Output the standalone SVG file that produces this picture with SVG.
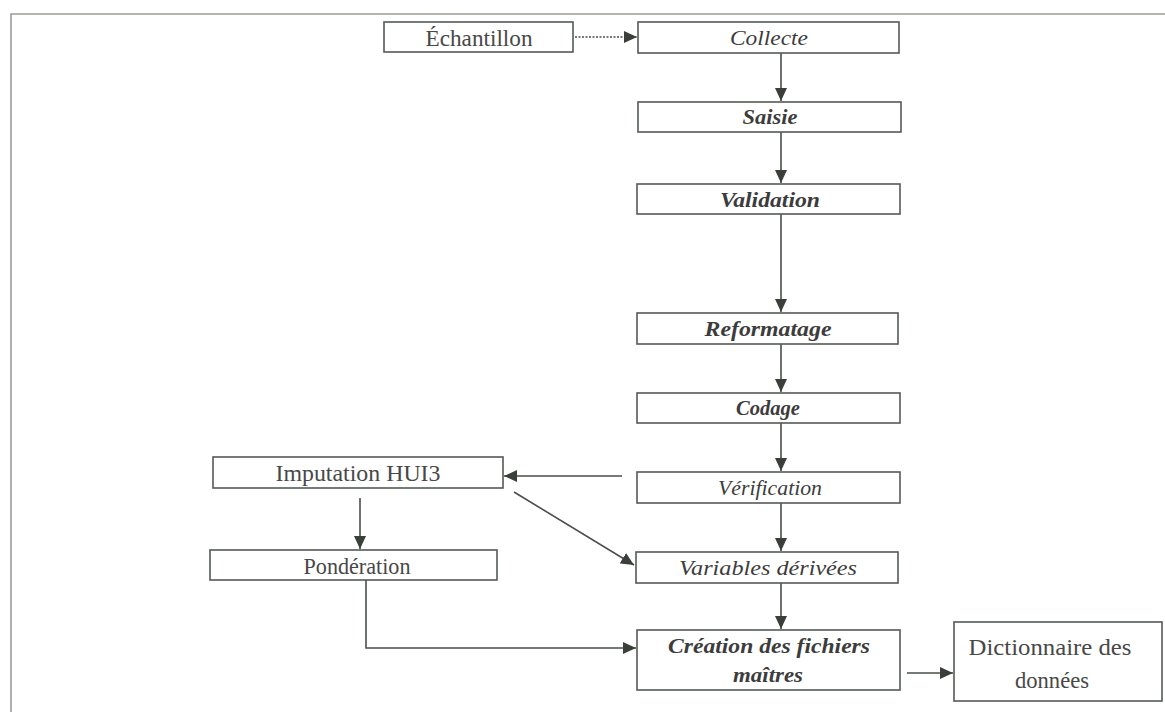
<svg xmlns="http://www.w3.org/2000/svg" width="1165" height="712" viewBox="0 0 1165 712">
<style>
.box{fill:#fff;stroke:#555a55;stroke-width:1.6}
.t{font-family:"Liberation Serif","Times New Roman",serif;font-size:22px;fill:#3c3c3c;text-anchor:middle}
.r{font-size:24px;fill:#484848}
.i{font-style:italic}
.b{font-weight:bold}
.c{fill:none;stroke:#4a4f4a;stroke-width:1.6}
.d{fill:none;stroke:#4a4f4a;stroke-width:1.4;stroke-dasharray:2 1.5}
</style>
<defs>
<marker id="ah" markerUnits="userSpaceOnUse" markerWidth="14" markerHeight="12" refX="13" refY="6" orient="auto">
<path d="M0,0 L13,6 L0,12 z" fill="#3a3f3a"/>
</marker>
</defs>
<rect width="1165" height="712" fill="#fff"/>
<path d="M11,712 V14 H1165" fill="none" stroke="#9a9d98" stroke-width="1.6"/>
<g id="connectors">
<path class="d" d="M575,37 H637" marker-end="url(#ah)"/>
<path class="c" d="M781,53 V101" marker-end="url(#ah)"/>
<path class="c" d="M781,132 V183" marker-end="url(#ah)"/>
<path class="c" d="M781,214 V312" marker-end="url(#ah)"/>
<path class="c" d="M781,344 V392" marker-end="url(#ah)"/>
<path class="c" d="M781,423 V471" marker-end="url(#ah)"/>
<path class="c" d="M781,503 V551" marker-end="url(#ah)"/>
<path class="c" d="M781,583 V629" marker-end="url(#ah)"/>
<path class="c" d="M622,476 H504" marker-end="url(#ah)"/>
<path class="c" d="M514,492 L634,565" marker-end="url(#ah)"/>
<path class="c" d="M360,498 V549" marker-end="url(#ah)"/>
<path class="c" d="M366,580 V648 H636" marker-end="url(#ah)"/>
<path class="c" d="M907,673 H953" marker-end="url(#ah)"/>
</g>
<g id="echantillon"><rect class="box" x="384" y="22" width="189" height="30"/><text class="t r" x="479" y="46" textLength="107" lengthAdjust="spacingAndGlyphs">Échantillon</text></g>
<g id="collecte"><rect class="box" x="638" y="22" width="261" height="31"/><text class="t i" x="769" y="45" textLength="78" lengthAdjust="spacingAndGlyphs">Collecte</text></g>
<g id="saisie"><rect class="box" x="638" y="102" width="263" height="30"/><text class="t i b" x="770" y="124" textLength="55" lengthAdjust="spacingAndGlyphs">Saisie</text></g>
<g id="validation"><rect class="box" x="637" y="184" width="263" height="30"/><text class="t i b" x="770" y="207" textLength="100" lengthAdjust="spacingAndGlyphs">Validation</text></g>
<g id="reformatage"><rect class="box" x="637" y="313" width="261" height="31"/><text class="t i b" x="768" y="336" textLength="127" lengthAdjust="spacingAndGlyphs">Reformatage</text></g>
<g id="codage"><rect class="box" x="637" y="393" width="263" height="30"/><text class="t i b" x="768" y="415" textLength="64" lengthAdjust="spacingAndGlyphs">Codage</text></g>
<g id="verification"><rect class="box" x="637" y="472" width="263" height="31"/><text class="t i" x="770" y="495" textLength="104" lengthAdjust="spacingAndGlyphs">Vérification</text></g>
<g id="variables"><rect class="box" x="636" y="552" width="262" height="31"/><text class="t i" x="768" y="575" textLength="178" lengthAdjust="spacingAndGlyphs">Variables dérivées</text></g>
<g id="creation"><rect class="box" x="637" y="630" width="263" height="60"/><text class="t i b" x="769" y="653" textLength="202" lengthAdjust="spacingAndGlyphs">Création des fichiers</text><text class="t i b" x="768" y="682" textLength="70" lengthAdjust="spacingAndGlyphs">maîtres</text></g>
<g id="dictionnaire"><rect class="box" x="954" y="622" width="208" height="79"/><text class="t r" x="1050" y="655" textLength="163" lengthAdjust="spacingAndGlyphs">Dictionnaire des</text><text class="t r" x="1052" y="688" textLength="74" lengthAdjust="spacingAndGlyphs">données</text></g>
<g id="imputation"><rect class="box" x="213" y="457" width="290" height="31"/><text class="t r" x="358" y="481" textLength="165" lengthAdjust="spacingAndGlyphs">Imputation HUI3</text></g>
<g id="ponderation"><rect class="box" x="210" y="550" width="287" height="30"/><text class="t r" x="357" y="574" textLength="107" lengthAdjust="spacingAndGlyphs">Pondération</text></g>
</svg>
